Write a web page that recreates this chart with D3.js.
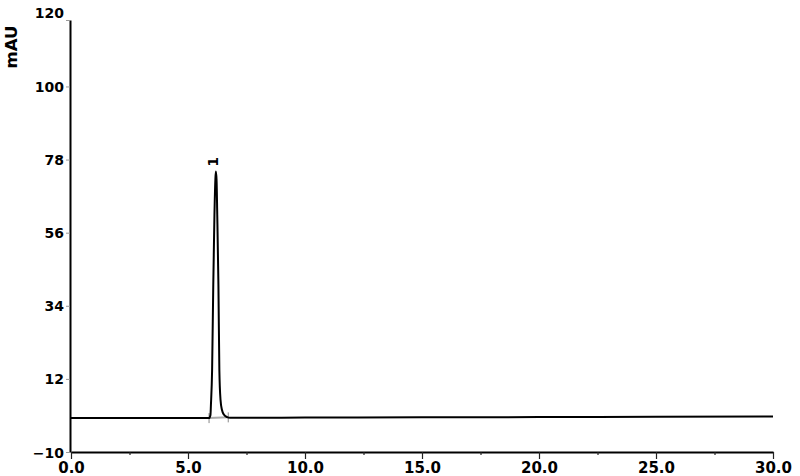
<!DOCTYPE html>
<html>
<head>
<meta charset="utf-8">
<script src="https://cdn.jsdelivr.net/npm/d3@7"></script>
<style>
  html, body { margin: 0; padding: 0; background: #fff; }
  svg { display: block; }
  text { font-family: "DejaVu Sans", "Liberation Sans", Arial, sans-serif; font-weight: bold; fill: #000; }
</style>
</head>
<body>
<svg id="chart" width="800" height="476"></svg>
<script>
// ---- data ----
const timeMin = [0, 5.90, 5.96, 5.98, 6.03, 6.08, 6.13, 6.17, 6.19, 6.22, 6.25, 6.30, 6.34, 6.39, 6.45, 6.54, 6.67, 6.80, 10, 15, 20, 25, 30];
const signalMAU = [0.2, 0.2, 1.15, 4.2, 14.7, 40.3, 61.4, 72.0, 74.4, 72.0, 61.4, 40.3, 14.7, 5.7, 2.7, 1.2, 0.5, 0.3, 0.35, 0.45, 0.5, 0.6, 0.65];
const yTickValues = [-10, 12, 34, 56, 78, 100, 120];
const xTickValues = [0, 5, 10, 15, 20, 25, 30];
const xMinorTickValues = [2.5, 7.5, 12.5, 17.5, 22.5, 27.5];
const peakLabels = ["1"];
const peakApexTime = [6.19];
const peakApexValue = [74.4];
const peakStartTime = [5.90];
const peakEndTime = [6.72];
const yAxisTitle = "mAU";

// ---- layout ----
const svg = d3.select("#chart");
const x = d3.scaleLinear().domain([0, 30]).range([71, 773]);
const y = d3.scaleLinear().domain([-10, 120]).range([452, 20]);

// y axis
const yAxis = svg.append("g").attr("transform", "translate(70,0)")
  .call(d3.axisLeft(y).tickValues(yTickValues).tickSize(4).tickSizeOuter(0).tickFormat(d3.format("d")));
yAxis.select(".domain").attr("stroke", "#000").attr("stroke-width", 2);
yAxis.selectAll(".tick line").attr("stroke", "#999").attr("stroke-width", 1);
yAxis.selectAll(".tick text")
  .attr("x", -6)
  .attr("dy", d => d === 120 ? "-3px" : "0.36em")
  .style("font-size", "14px");

// x axis
const xAxis = svg.append("g").attr("transform", "translate(0,452)")
  .call(d3.axisBottom(x).tickValues(xTickValues).tickSize(7).tickSizeOuter(0).tickFormat(d3.format(".1f")));
xAxis.select(".domain").attr("stroke", "#000").attr("stroke-width", 2);
xAxis.selectAll(".tick line").attr("stroke", "#222").attr("stroke-width", 1.2);
xAxis.selectAll(".tick text").attr("y", 21).attr("dy", "0").style("font-size", "15px");

const xMinor = svg.append("g").attr("transform", "translate(0,452)")
  .call(d3.axisBottom(x).tickValues(xMinorTickValues).tickSize(3).tickSizeOuter(0).tickFormat(""));
xMinor.select(".domain").remove();
xMinor.selectAll(".tick line").attr("stroke", "#222").attr("stroke-width", 1.2);

// y title
svg.append("text")
  .attr("transform", `translate(17,47) rotate(-90)`)
  .attr("text-anchor", "middle")
  .style("font-size", "16.5px")
  .text(yAxisTitle);

// baseline segments under peaks (grey)
const baseVal = d3.scaleLinear().domain(timeMin).range(signalMAU);
peakStartTime.forEach((s, i) => {
  const e = peakEndTime[i];
  svg.append("line")
    .attr("x1", x(s)).attr("x2", x(e))
    .attr("y1", y(baseVal(s))).attr("y2", y(baseVal(e)))
    .attr("stroke", "#aaa").attr("stroke-width", 2);
  [s, e].forEach(t => {
    svg.append("line")
      .attr("x1", x(t)).attr("x2", x(t))
      .attr("y1", y(baseVal(t)) - 5).attr("y2", y(baseVal(t)) + 5)
      .attr("stroke", "#888").attr("stroke-width", 1);
  });
});

// chromatogram trace
const pts = timeMin.map((t, i) => [t, signalMAU[i]]);
svg.append("path")
  .datum(pts)
  .attr("fill", "none")
  .attr("stroke", "#000")
  .attr("stroke-width", 2)
  .attr("stroke-linejoin", "round")
  .attr("d", d3.line().x(d => x(d[0])).y(d => y(d[1])).curve(d3.curveMonotoneX));

// peak labels
peakLabels.forEach((lab, i) => {
  svg.append("text")
    .attr("transform", `translate(${x(peakApexTime[i]) + 2},${y(peakApexValue[i]) - 5}) rotate(-90)`)
    .attr("text-anchor", "start")
    .style("font-size", "13.5px")
    .text(lab);
});
</script>
</body>
</html>
